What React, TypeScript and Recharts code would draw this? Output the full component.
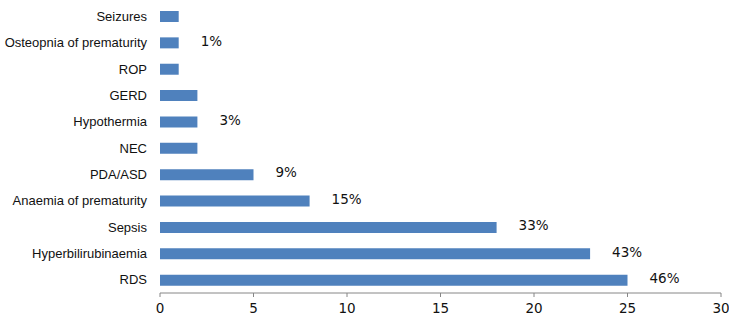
import { Bar, BarChart, LabelList, XAxis, YAxis } from "recharts"

const categories = [
  "Seizures",
  "Osteopnia of prematurity",
  "ROP",
  "GERD",
  "Hypothermia",
  "NEC",
  "PDA/ASD",
  "Anaemia of prematurity",
  "Sepsis",
  "Hyperbilirubinaemia",
  "RDS",
]
const counts = [1, 1, 1, 2, 2, 2, 5, 8, 18, 23, 25]
const percents = ["", "1%", "", "", "3%", "", "9%", "15%", "33%", "43%", "46%"]
const xTicks = [0, 5, 10, 15, 20, 25, 30]
const boundaryTicks = [0, 1, 2, 3, 4, 5, 6, 7, 8, 9, 10, 11]

const data = categories.map((name, i) => ({ name, count: counts[i], pct: percents[i] }))

const axisColor = "#868686"

const PctLabel = (props: any) => {
  const { x, y, width, height, value } = props
  if (!value) return null
  return (
    <text
      x={x + width + 22}
      y={y + height / 2 - 2}
      dy="0.355em"
      fontSize={13.5}
      fontFamily="'DejaVu Sans', Verdana, sans-serif"
      fill="#111"
    >
      {value}
    </text>
  )
}

const CategoryTick = (props: any) => {
  const { x, y, payload } = props
  return (
    <text
      x={x}
      y={y}
      dy="0.355em"
      textAnchor="end"
      fontSize={13}
      fontFamily="'Liberation Sans', Arial, sans-serif"
      fill="#111"
    >
      {payload.value}
    </text>
  )
}

export default function App() {
  return (
    <div style={{ position: "absolute", left: 0, top: 0, background: "#fff" }}>
      <BarChart
        width={729}
        height={315}
        data={data}
        layout="vertical"
        margin={{ top: 3, right: 8, left: 0, bottom: 0 }}
      >
        <XAxis
          type="number"
          domain={[0, 30]}
          ticks={xTicks}
          interval={0}
          height={22}
          stroke={axisColor}
          tickSize={4}
          tickMargin={6}
          tick={{ fill: "#111", fontSize: 13.5, fontFamily: "'DejaVu Sans', Verdana, sans-serif" }}
        />
        <YAxis
          yAxisId="bounds"
          type="number"
          domain={[0, 11]}
          ticks={boundaryTicks}
          interval={0}
          width={0}
          tick={() => <g />}
          tickSize={4}
          stroke={axisColor}
        />
        <YAxis
          yAxisId="cat"
          type="category"
          dataKey="name"
          width={160}
          interval={0}
          axisLine={false}
          tickLine={false}
          tickSize={6}
          tickMargin={7}
          tick={<CategoryTick />}
        />
        <Bar yAxisId="cat" dataKey="count" fill="#4f81bd" barSize={11} isAnimationActive={false}>
          <LabelList dataKey="pct" content={<PctLabel />} />
        </Bar>
      </BarChart>
    </div>
  )
}
